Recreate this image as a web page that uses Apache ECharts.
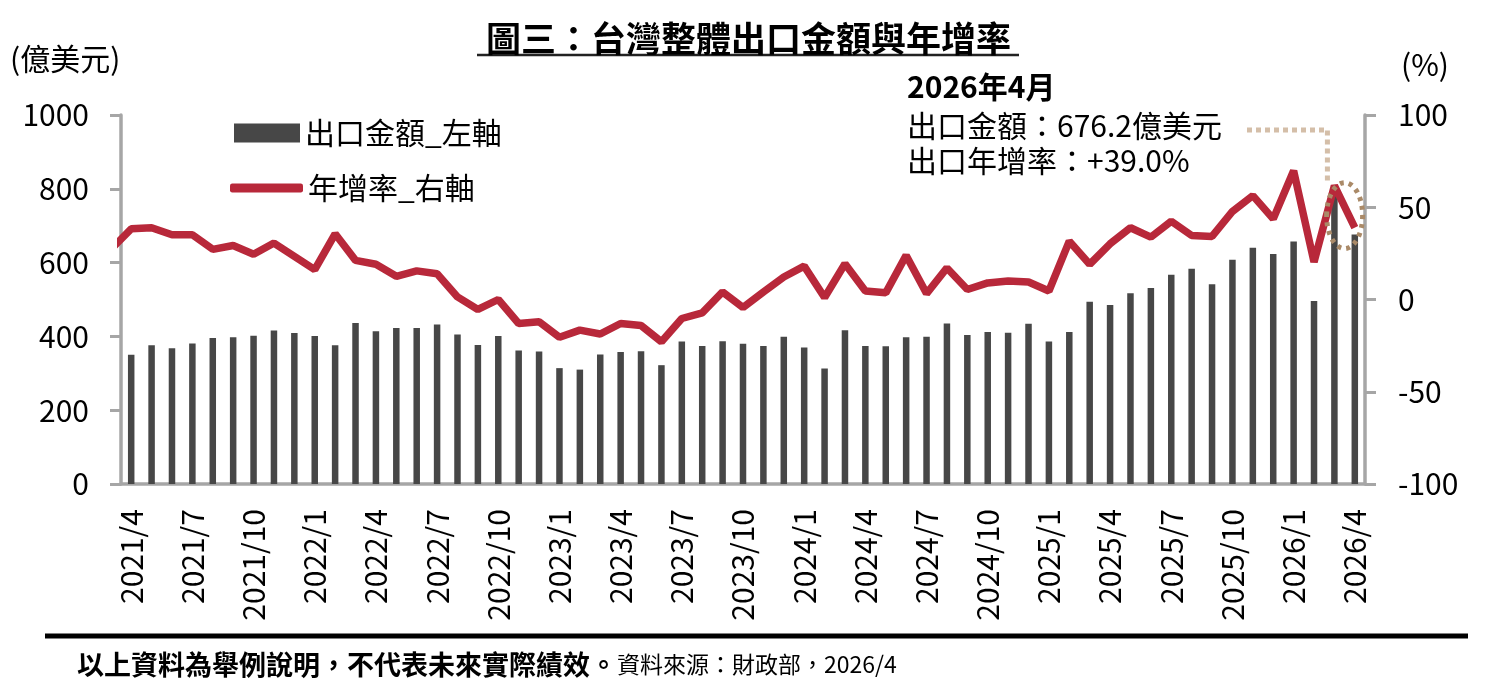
<!DOCTYPE html>
<html lang="zh-Hant">
<head>
<meta charset="UTF-8">
<title>圖三：台灣整體出口金額與年增率</title>
<style>
    * {
        margin: 0;
        padding: 0;
    }

    body {
        background: #fff;
    }

    .chart {
        width: 1497px;
        height: 694px;
    }
</style>
<script src="https://cdn.jsdelivr.net/npm/echarts@6/dist/echarts.min.js"></script>
</head>

<body>
    <div id="chart" class="chart"></div>
</body>

<script>
var FONT = '"Noto Sans CJK TC", "Noto Sans", sans-serif';

// 月份
var months = [
    '2021/4', '2021/5', '2021/6', '2021/7', '2021/8', '2021/9', '2021/10', '2021/11', '2021/12',
    '2022/1', '2022/2', '2022/3', '2022/4', '2022/5', '2022/6', '2022/7', '2022/8', '2022/9', '2022/10', '2022/11', '2022/12',
    '2023/1', '2023/2', '2023/3', '2023/4', '2023/5', '2023/6', '2023/7', '2023/8', '2023/9', '2023/10', '2023/11', '2023/12',
    '2024/1', '2024/2', '2024/3', '2024/4', '2024/5', '2024/6', '2024/7', '2024/8', '2024/9', '2024/10', '2024/11', '2024/12',
    '2025/1', '2025/2', '2025/3', '2025/4', '2025/5', '2025/6', '2025/7', '2025/8', '2025/9', '2025/10', '2025/11', '2025/12',
    '2026/1', '2026/2', '2026/3', '2026/4'
];

// 出口金額(億美元)
var exportsAmt = [
    350, 376, 368, 381, 396, 398, 402, 416, 409,
    401, 376, 436, 414, 423, 423, 432, 405, 377, 401, 362, 359,
    314, 310, 351, 358, 360, 322, 386, 374, 387, 380, 374, 399,
    370, 313, 417, 374, 373, 398, 399, 435, 404, 412, 410, 434,
    386, 412, 494, 485, 517, 531, 567, 583, 541, 608, 640, 623,
    657, 496, 785, 676.2
];

// 年增率(%)
var growthRate = [
    38.3, 38.9, 35.1, 35.1, 27.2, 29.3, 24.5, 30.6, 23.4,
    16.2, 35.6, 21.2, 19.1, 12.6, 15.5, 14.0, 1.4, -5.4, 0.0, -13.0, -12.1,
    -20.5, -16.6, -18.7, -13.0, -14.1, -22.9, -10.3, -7.2, 4.1, -4.3, 4.1, 12.2,
    18.1, 1.1, 19.4, 4.6, 3.6, 23.9, 3.2, 17.1, 5.4, 9.0, 10.0, 9.5,
    4.6, 31.6, 19.1, 30.2, 38.9, 33.8, 42.4, 34.7, 34.2, 47.7, 56.3, 43.7,
    69.8, 20.3, 61.7, 39.0
];
var growthPrev = 27.1; // 2021/3, 線從左軸邊緣切進來

var leftTicks = [0, 1000, 200];
var rightTicks = [-100, 100, 50];

var chart = echarts.init(document.getElementById('chart'));

// 折線放在數值x軸上, 每個月份在格子中間
var lineData = [[-0.5, growthPrev]];
growthRate.forEach(function (v, i) {
    lineData.push([i + 0.5, v]);
});

var axisGray = '#a6a6a6';
var last = months.length - 1;

var option = {
    animation: false,
    textStyle: { fontFamily: FONT },
    title: {
        text: '圖三：台灣整體出口金額與年增率',
        left: 'center',
        top: 16,
        textStyle: { fontFamily: FONT, fontSize: 35, fontWeight: 'bold', color: '#000' }
    },
    grid: { left: 121, right: 132, top: 115, bottom: 210, containLabel: false },
    legend: [{
        data: [{ name: '出口金額_左軸', icon: 'rect' }],
        left: 229,
        top: 110,
        itemWidth: 66,
        itemHeight: 19,
        textStyle: { fontFamily: FONT, fontSize: 30, lineHeight: 36, color: '#000' }
    }, {
        data: [{ name: '年增率_右軸', icon: 'roundRect' }],
        left: 225,
        top: 165,
        itemWidth: 73,
        itemHeight: 9,
        textStyle: { fontFamily: FONT, fontSize: 30, lineHeight: 36, color: '#000' }
    }],
    xAxis: [{
        type: 'category',
        data: months,
        boundaryGap: true,
        axisLine: { lineStyle: { color: axisGray, width: 3.5 } },
        axisTick: { interval: 2, length: 11, lineStyle: { color: axisGray, width: 3 } },
        axisLabel: { interval: 2, rotate: 90, margin: 25, fontSize: 30, color: '#000', fontFamily: FONT },
        splitLine: { show: false }
    }, {
        type: 'value',
        min: 0,
        max: months.length,
        show: false
    }],
    yAxis: [{
        type: 'value',
        min: leftTicks[0],
        max: leftTicks[1],
        interval: leftTicks[2],
        axisLine: { show: true, lineStyle: { color: axisGray, width: 3.5 } },
        axisTick: { show: true, length: 11, lineStyle: { color: axisGray, width: 3 } },
        axisLabel: {
            margin: 32, fontSize: 30, color: '#000', fontFamily: FONT,
            formatter: function (v) { return String(v); }
        },
        splitLine: { show: false }
    }, {
        type: 'value',
        min: rightTicks[0],
        max: rightTicks[1],
        interval: rightTicks[2],
        position: 'right',
        axisLine: { show: true, lineStyle: { color: axisGray, width: 3.5 } },
        axisTick: { show: true, length: 11, lineStyle: { color: axisGray, width: 3 } },
        axisLabel: {
            margin: 33, fontSize: 30, color: '#000', fontFamily: FONT,
            formatter: function (v) { return String(v); }
        },
        splitLine: { show: false }
    }],
    series: [{
        name: '出口金額_左軸',
        type: 'bar',
        data: exportsAmt,
        barWidth: 6.5,
        itemStyle: { color: '#474747' },
        z: 2
    }, {
        name: '年增率_右軸',
        type: 'line',
        xAxisIndex: 1,
        yAxisIndex: 1,
        data: lineData,
        symbol: 'none',
        clip: true,
        lineStyle: { color: '#b8283a', width: 7.5 },
        itemStyle: { color: '#b8283a' },
        z: 3
    }]
};

chart.setOption(option);

// 註解: 最新月份數值, 點線框和虛線圈
var p1 = chart.convertToPixel({ seriesIndex: 1 }, [last - 0.5, growthRate[last - 1]]);
var p2 = chart.convertToPixel({ seriesIndex: 1 }, [last + 0.5, growthRate[last]]);
var lastLabel = months[last].split('/');

chart.setOption({
    graphic: [
        { // 標題底線
            type: 'line',
            shape: { x1: 477, y1: 55, x2: 1019, y2: 55 },
            style: { stroke: '#222', lineWidth: 2.5 }
        },
        {
            type: 'text', left: 10, top: 44,
            style: { text: '(億美元)', font: '30px ' + FONT, fill: '#000' }
        },
        {
            type: 'text', left: 1401, top: 50,
            style: { text: '(%)', font: '30px ' + FONT, fill: '#000' }
        },
        {
            type: 'text', left: 907, top: 72,
            style: { text: lastLabel[0] + '年' + lastLabel[1] + '月', font: 'bold 30px ' + FONT, fill: '#000' }
        },
        {
            type: 'text', left: 907, top: 111,
            style: { text: '出口金額：' + exportsAmt[last].toFixed(1) + '億美元', font: '30px ' + FONT, fill: '#000' }
        },
        {
            type: 'text', left: 907, top: 146,
            style: { text: '出口年增率：+' + growthRate[last].toFixed(1) + '%', font: '30px ' + FONT, fill: '#000' }
        },
        {
            type: 'polyline',
            shape: { points: [[1247, 130], [p1[0] - 7, 130], [p1[0] - 7, p1[1] - 2]] },
            style: { stroke: '#d4bea8', lineWidth: 5, lineDash: [5, 4], fill: null },
            z: 1
        },
        {
            type: 'ellipse',
            shape: { cx: (p1[0] + p2[0]) / 2, cy: (p1[1] + p2[1]) / 2 + 9, rx: 18, ry: 33 },
            style: { stroke: '#aa8a68', lineWidth: 5, lineDash: [4, 5], fill: null },
            z: 10
        },
        { // 底部分隔線
            type: 'line',
            shape: { x1: 45, y1: 636, x2: 1468, y2: 636 },
            style: { stroke: '#000', lineWidth: 5 }
        },
        {
            type: 'text', left: 77, top: 651,
            style: {
                text: '{b|以上資料為舉例說明，不代表未來實際績效。}{n|資料來源：財政部，2026/4}',
                rich: {
                    b: { fontFamily: FONT, fontSize: 27, fontWeight: 'bold', fill: '#000', color: '#000' },
                    n: { fontFamily: FONT, fontSize: 23, fill: '#000', color: '#000' }
                }
            }
        }
    ]
});
</script>
</html>
